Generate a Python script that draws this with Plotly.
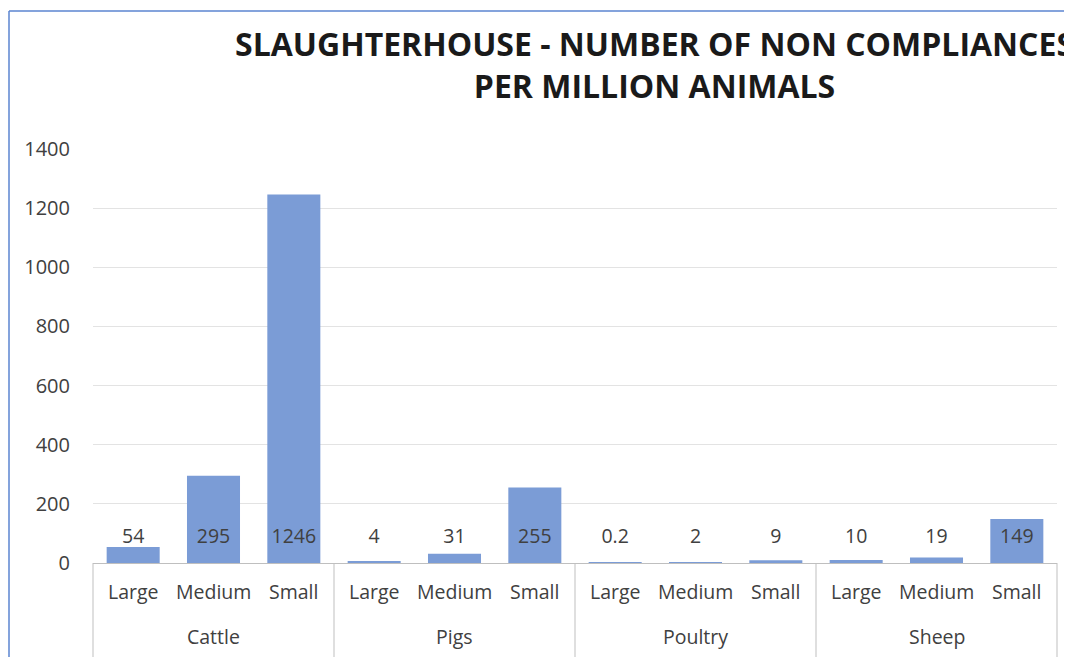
import plotly.graph_objects as go

species = ["Cattle", "Cattle", "Cattle", "Pigs", "Pigs", "Pigs",
           "Poultry", "Poultry", "Poultry", "Sheep", "Sheep", "Sheep"]
sizes = ["Large", "Medium", "Small"] * 4
values = [54, 295, 1246, 4, 31, 255, 0.2, 2, 9, 10, 19, 149]
value_labels = ["54", "295", "1246", "4", "31", "255", "0.2", "2", "9", "10", "19", "149"]
groups = ["Cattle", "Pigs", "Poultry", "Sheep"]
y_ticks = [0, 200, 400, 600, 800, 1000, 1200, 1400]

# the page body adds an 8px offset; work in page pixels and convert
OFF = 8
PW, PH = 1072, 657
W, H = PW - OFF, PH - OFF
plot_left, plot_right, plot_top, plot_bottom = 93, 1057, 149, 563
ML, MR = plot_left - OFF, PW - plot_right
MT, MB = plot_top - OFF, PH - plot_bottom
pw, ph = plot_right - plot_left, plot_bottom - plot_top
YMAX = 1400
upp = YMAX / ph  # data units per pixel

FONT = "Open Sans"
TXT = "#404040"
GRID = "#E3E3E3"
AXIS = "#BFBFBF"
FS = 19.5

fig = go.Figure()
fig.add_trace(go.Bar(
    x=[species, sizes], y=values,
    marker=dict(color="#7B9CD6", line=dict(width=0)),
    hoverinfo="skip", showlegend=False,
))
# value labels near the base
fig.add_trace(go.Scatter(
    x=[species, sizes], y=[25 * upp] * len(values),
    mode="text", text=value_labels, textposition="middle center",
    textfont=dict(family=FONT, size=FS, color=TXT),
    hoverinfo="skip", showlegend=False, cliponaxis=False,
))

fx = lambda px: (px - plot_left) / pw
fy = lambda py: (plot_bottom - py) / ph

# first-level category labels
for i, s in enumerate(sizes):
    fig.add_annotation(text=s, xref="x", yref="paper", x=i, y=0,
                       yshift=-28, xanchor="center", yanchor="middle",
                       showarrow=False,
                       font=dict(family=FONT, size=FS, color=TXT))
# group labels
for g, name in enumerate(groups):
    fig.add_annotation(text=name, xref="x", yref="paper", x=3 * g + 1, y=0,
                       yshift=-73, xanchor="center", yanchor="middle",
                       showarrow=False,
                       font=dict(family=FONT, size=FS, color=TXT))

# group dividers
n = len(groups)
for k in range(n + 1):
    fig.add_shape(type="line", xref="paper", yref="paper",
                  x0=k / n, x1=k / n, y0=0, y1=fy(PH + 5),
                  line=dict(color=AXIS, width=1))

# chart frame
border = "#5B85D0"
fig.add_shape(type="line", xref="paper", yref="paper",
              x0=fx(9), x1=fx(9), y0=fy(PH + 5), y1=fy(11),
              line=dict(color=border, width=1.5))
fig.add_shape(type="line", xref="paper", yref="paper",
              x0=fx(9), x1=fx(PW + 5), y0=fy(11), y1=fy(11),
              line=dict(color=border, width=1.5))

fig.add_annotation(
    text="SLAUGHTERHOUSE - NUMBER OF NON COMPLIANCES<br>PER MILLION ANIMALS",
    xref="paper", yref="paper", x=fx(654), y=fy(20),
    xanchor="center", yanchor="top", showarrow=False, align="center",
    font=dict(family=FONT, size=32, color="#1a1a1a", weight="bold"),
)

fig.update_layout(
    width=W, height=H,
    margin=dict(l=ML, r=MR, t=MT, b=MB, autoexpand=False),
    paper_bgcolor="white", plot_bgcolor="white",
    bargap=0.34,
    xaxis=dict(
        type="multicategory", automargin=False,
        range=[-0.5, len(values) - 0.5],
        showline=True, linecolor=AXIS, linewidth=1,
        showdividers=False, showticklabels=False,
        ticks="", showgrid=False,
    ),
    yaxis=dict(
        range=[0, YMAX], tickvals=y_ticks, automargin=False,
        showgrid=True, gridcolor=GRID, gridwidth=1,
        zeroline=False, showline=False,
        tickfont=dict(family=FONT, size=20, color=TXT),
        ticklabelstandoff=22,
    ),
)

fig.write_html("out.html")
